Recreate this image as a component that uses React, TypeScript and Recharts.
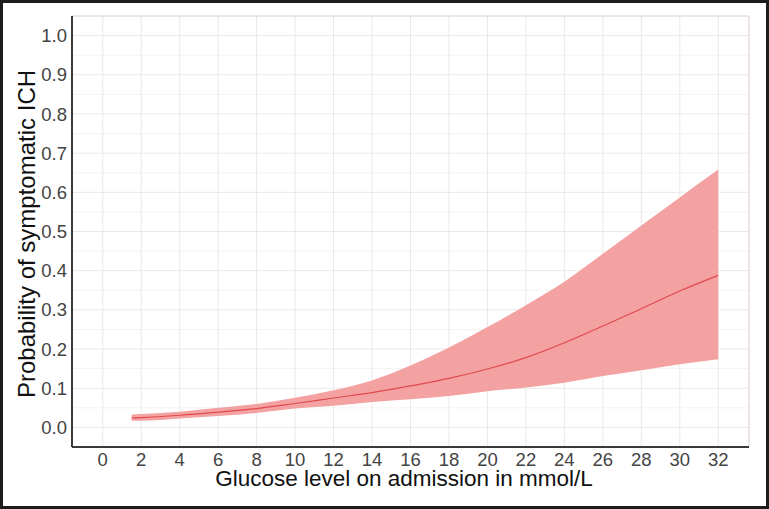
import { ComposedChart, Area, Line, XAxis, YAxis, CartesianGrid, ReferenceLine } from "recharts";

const glucose = [1.5, 2, 4, 6, 8, 10, 12, 14, 16, 18, 20, 22, 24, 26, 28, 30, 32];
const prob = [0.024, 0.025, 0.031, 0.039, 0.048, 0.061, 0.075, 0.089, 0.106, 0.125, 0.149, 0.178, 0.216, 0.259, 0.303, 0.348, 0.388];
const upper = [0.033, 0.034, 0.04, 0.05, 0.06, 0.076, 0.095, 0.12, 0.158, 0.204, 0.256, 0.312, 0.372, 0.443, 0.515, 0.587, 0.658];
const lower = [0.017, 0.017, 0.023, 0.029, 0.037, 0.048, 0.055, 0.065, 0.072, 0.08, 0.092, 0.102, 0.114, 0.131, 0.146, 0.161, 0.174];

const xTicks = [0, 2, 4, 6, 8, 10, 12, 14, 16, 18, 20, 22, 24, 26, 28, 30, 32];
const yTicks = [0, 0.1, 0.2, 0.3, 0.4, 0.5, 0.6, 0.7, 0.8, 0.9, 1.0];
const yMinor = [0.05, 0.15, 0.25, 0.35, 0.45, 0.55, 0.65, 0.75, 0.85, 0.95];

const data = glucose.map((g, i) => ({
  g,
  p: prob[i],
  band: [lower[i], upper[i]],
}));

const font = "'Liberation Sans', Arial, sans-serif";

export default function App() {
  return (
    <div
      style={{
        position: "absolute",
        left: 0,
        top: 0,
        width: 769,
        height: 509,
        background: "#fff",
        fontFamily: font,
      }}
    >
      <ComposedChart
        width={769}
        height={509}
        data={data}
        margin={{ top: 16, right: 20, bottom: 12, left: 22 }}
      >
        <CartesianGrid horizontalValues={yMinor} vertical={false} stroke="#f5f2f2" />
        <CartesianGrid horizontalValues={yTicks} verticalValues={xTicks} stroke="#ece7e7" />
        <XAxis
          dataKey="g"
          type="number"
          domain={[-1.6, 33.6]}
          ticks={xTicks}
          height={50}
          tickLine={false}
          tickSize={0}
          tickMargin={6}
          stroke="#3a3a3a"
          strokeWidth={2}
          tick={{ fontSize: 18.5, fill: "#444", fontFamily: font }}
          allowDataOverflow
        />
        <YAxis
          type="number"
          domain={[-0.05, 1.05]}
          ticks={yTicks}
          width={50}
          tickLine={false}
          tickSize={0}
          tickMargin={5}
          stroke="#3a3a3a"
          strokeWidth={2}
          tickFormatter={(v: number) => v.toFixed(1)}
          tick={{ fontSize: 18.5, fill: "#444", fontFamily: font }}
          allowDataOverflow
        />
        <ReferenceLine y={1.05} stroke="#dccccc" />
        <ReferenceLine x={33.6} stroke="#dccccc" />
        <Area
          dataKey="band"
          type="monotone"
          fill="#f3a1a1"
          fillOpacity={1}
          stroke="none"
          isAnimationActive={false}
        />
        <Line
          dataKey="p"
          type="monotone"
          stroke="#e04a4e"
          strokeWidth={1.2}
          dot={false}
          isAnimationActive={false}
        />
      </ComposedChart>
      <div
        style={{
          position: "absolute",
          left: 0,
          top: 468,
          width: 808,
          textAlign: "center",
          fontSize: 22.5,
          lineHeight: 1,
          color: "#111",
          whiteSpace: "nowrap",
        }}
      >
        Glucose level on admission in mmol/L
      </div>
      <div
        style={{
          position: "absolute",
          left: 27,
          top: 234,
          transform: "translate(-50%, -50%) rotate(-90deg)",
          fontSize: 24,
          lineHeight: 1,
          color: "#111",
          whiteSpace: "nowrap",
        }}
      >
        Probability of symptomatic ICH
      </div>
      <div
        style={{
          position: "absolute",
          left: 0,
          top: 0,
          width: 769,
          height: 509,
          boxSizing: "border-box",
          border: "3px solid #1c1c1c",
          pointerEvents: "none",
        }}
      />
    </div>
  );
}
